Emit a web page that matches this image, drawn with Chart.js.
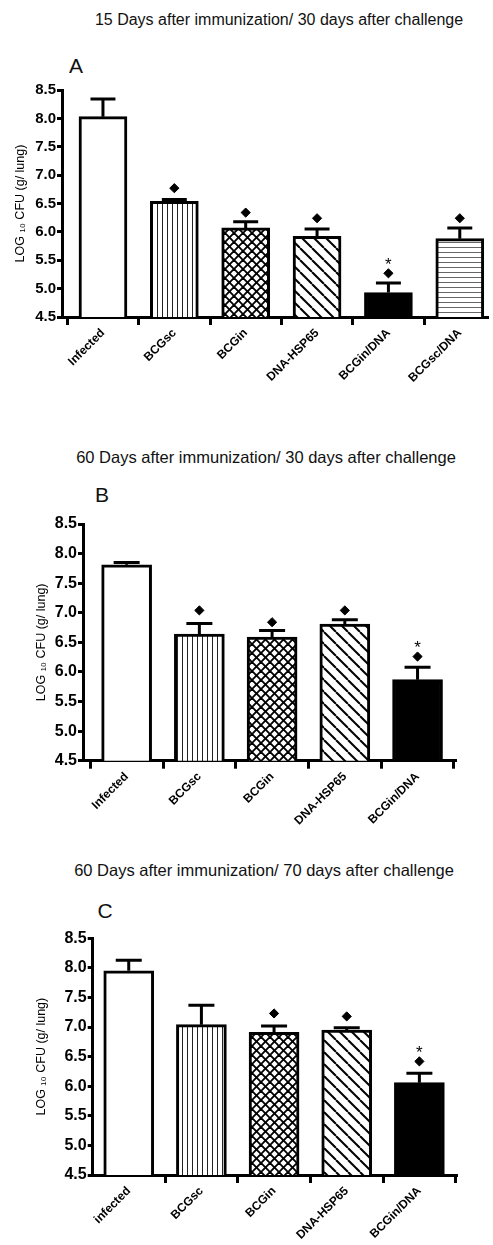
<!DOCTYPE html>
<html><head><meta charset="utf-8">
<script src="https://cdn.jsdelivr.net/npm/chart.js@4.4.1/dist/chart.umd.min.js"></script>
<style>
html,body{margin:0;padding:0;background:#fff;}
body{width:493px;height:1245px;position:relative;overflow:hidden;font-family:"Liberation Sans",Arial,sans-serif;}
canvas{position:absolute;left:0;}
.t{position:absolute;transform:translate(-50%,-50%);white-space:nowrap;color:#111;line-height:1;}
</style></head><body>
<script>
// ---------- DATA ----------
const catsA = ['Infected','BCGsc','BCGin','DNA-HSP65','BCGin/DNA','BCGsc/DNA'];
const meansA = [8.03, 6.54, 6.07, 5.92, 4.93, 5.88];
const semA = [0.31, 0.03, 0.11, 0.13, 0.17, 0.19];
const diamondA = [null, 6.77, 6.34, 6.24, 5.27, 6.24];
const starA = [null, null, null, null, 5.50, null];

const catsB = ['Infected','BCGsc','BCGin','DNA-HSP65','BCGin/DNA'];
const meansB = [7.81, 6.64, 6.59, 6.81, 5.87];
const semB = [0.04, 0.18, 0.11, 0.07, 0.21];
const diamondB = [null, 7.04, 6.84, 7.04, 6.26];
const starB = [null, null, null, null, 6.48];

const catsC = ['infected','BCGsc','BCGin','DNA-HSP65','BCGin/DNA'];
const meansC = [7.95, 7.04, 6.91, 6.95, 6.06];
const semC = [0.18, 0.33, 0.11, 0.04, 0.16];
const diamondC = [null, null, 7.23, 7.18, 6.42];
const starC = [null, null, null, null, 6.64];

const yTickVals = [4.5, 5.0, 5.5, 6.0, 6.5, 7.0, 7.5, 8.0, 8.5];
const yTitle = 'LOG \u2081\u2080 CFU (g/ lung)';
const titleA = '15 Days after immunization/ 30 days after challenge';
const titleB = '60 Days after immunization/ 30 days after challenge';
const titleC = '60 Days after immunization/ 70 days after challenge';
const fillKinds = ['white','vertical','cross','diag','solid','horizontal'];

// ---------- LAYOUT ----------
const FF = '"Liberation Sans", Arial, sans-serif';
const panels = [
  {letter:'A', title:titleA, cats:catsA, means:meansA, sem:semA, dia:diamondA, star:starA,
   top:80, h:320, left:62, plotTop:90, plotBottom:317, right:493, xmin:-0.574, xmax:5.387, bw:48, tf:15, ytx:21, tsz:16,
   titleXY:[279,20], letterXY:[76,65]},
  {letter:'B', title:titleB, cats:catsB, means:meansB, sem:semB, dia:diamondB, star:starB,
   top:500, h:340, left:83, plotTop:524, plotBottom:760.7, right:455, xmin:-0.60, xmax:4.515, bw:50, tf:16, ytx:42, tsz:16.5,
   titleXY:[266,457], letterXY:[102,494]},
  {letter:'C', title:titleC, cats:catsC, means:meansC, sem:semC, dia:diamondC, star:starC,
   top:920, h:325, left:92.7, plotTop:938.3, plotBottom:1175, right:456, xmin:-0.496, xmax:4.504, bw:50, tf:16, ytx:41.7, tsz:16.5,
   titleXY:[264,870], letterXY:[105,910]}
];

function makeFill(kind){
  if (kind === 'white') return '#ffffff';
  if (kind === 'solid') return '#000000';
  const c = document.createElement('canvas');
  const g = c.getContext('2d');
  if (kind === 'vertical') {
    c.width = 5; c.height = 5;
    g.fillStyle = '#fff'; g.fillRect(0,0,5,5);
    g.fillStyle = '#222'; g.fillRect(2,0,1,5);
  } else if (kind === 'horizontal') {
    c.width = 5; c.height = 5;
    g.fillStyle = '#fff'; g.fillRect(0,0,5,5);
    g.fillStyle = '#666'; g.fillRect(0,2,5,1);
  } else if (kind === 'diag') {
    const s = 12; c.width = s; c.height = s;
    g.fillStyle = '#fff'; g.fillRect(0,0,s,s);
    g.strokeStyle = '#000'; g.lineWidth = 2;
    for (let k = -1; k <= 1; k++) { g.beginPath(); g.moveTo(k*s, 0); g.lineTo(k*s + s, s); g.stroke(); }
  } else if (kind === 'cross') {
    const s = 9; c.width = s; c.height = s;
    g.fillStyle = '#fff'; g.fillRect(0,0,s,s);
    g.strokeStyle = '#000'; g.lineWidth = 1.9;
    for (let k = -1; k <= 1; k++) { g.beginPath(); g.moveTo(k*s, 0); g.lineTo(k*s + s, s); g.stroke(); }
    for (let k = 0; k <= 2; k++) { g.beginPath(); g.moveTo(k*s, 0); g.lineTo(k*s - s, s); g.stroke(); }
  }
  return g.createPattern(c, 'repeat');
}

panels.forEach(p => {
  const tt = document.createElement('div');
  tt.className = 't'; tt.textContent = p.title;
  tt.style.left = p.titleXY[0] + 'px'; tt.style.top = p.titleXY[1] + 'px'; tt.style.fontSize = p.tsz + 'px';
  document.body.appendChild(tt);
  const lt = document.createElement('div');
  lt.className = 't'; lt.textContent = p.letter;
  lt.style.left = p.letterXY[0] + 'px'; lt.style.top = p.letterXY[1] + 'px'; lt.style.fontSize = '21px';
  document.body.appendChild(lt);

  const cv = document.createElement('canvas');
  cv.width = 493; cv.height = p.h; cv.style.top = p.top + 'px';
  document.body.appendChild(cv);

  const errPlugin = {
    id: 'errbars',
    afterDatasetsDraw(chart) {
      const ctx = chart.ctx, xs = chart.scales.x, ys = chart.scales.y;
      ctx.save();
      ctx.strokeStyle = '#000'; ctx.lineWidth = 3; ctx.lineCap = 'butt';
      p.means.forEach((m, i) => {
        const x = xs.getPixelForValue(i);
        const y0 = ys.getPixelForValue(m);
        const y1 = ys.getPixelForValue(m + p.sem[i]);
        const hw = p.bw * 0.26;
        ctx.beginPath();
        ctx.moveTo(x, y0); ctx.lineTo(x, y1);
        ctx.moveTo(x - hw, y1); ctx.lineTo(x + hw, y1);
        ctx.stroke();
      });
      ctx.fillStyle = '#000'; ctx.font = '17px ' + FF;
      ctx.textAlign = 'center'; ctx.textBaseline = 'alphabetic';
      p.star.forEach((s, i) => {
        if (s == null) return;
        ctx.fillText('*', xs.getPixelForValue(i), ys.getPixelForValue(s) + 9.5);
      });
      ctx.restore();
    }
  };

  new Chart(cv, {
    type: 'bar',
    data: {
      datasets: [
        {type: 'bar', data: p.means.map((v, i) => ({x: i, y: v})),
         backgroundColor: p.cats.map((c, i) => makeFill(fillKinds[i])),
         borderColor: '#000', borderWidth: 3, borderSkipped: false, barThickness: p.bw, order: 2},
        {type: 'line', data: p.dia.map((v, i) => v == null ? null : ({x: i, y: v})).filter(Boolean),
         showLine: false, pointStyle: 'rectRot', pointRadius: 4.6,
         pointBackgroundColor: '#000', pointBorderColor: '#000', pointBorderWidth: 1, order: 1}
      ]
    },
    options: {
      responsive: false, animation: false, events: [],
      layout: {padding: {top: p.plotTop - p.top, left: 0, right: 493 - p.right, bottom: 0}},
      plugins: {legend: {display: false}, tooltip: {enabled: false}},
      scales: {
        x: {type: 'linear', min: p.xmin, max: p.xmax, offset: false,
            afterBuildTicks: s => { s.ticks = p.cats.map((c, i) => ({value: i})); },
            afterFit: s => { s.height = p.top + p.h - p.plotBottom; },
            ticks: {callback: v => p.cats[v] ?? '', minRotation: 45, maxRotation: 45, autoSkip: false,
                    color: '#000', font: {family: FF, size: 12, weight: 'bold'}, padding: 1},
            grid: {drawOnChartArea: false, drawTicks: true, tickLength: 8, lineWidth: 3, color: '#000'},
            border: {display: true, width: 3, color: '#000'}},
        y: {type: 'linear', min: 4.5, max: 8.5,
            afterBuildTicks: s => { s.ticks = yTickVals.map(v => ({value: v})); },
            afterFit: s => { s.width = p.left; },
            ticks: {callback: v => v.toFixed(1), color: '#000', font: {family: FF, size: p.tf, weight: 'bold'}, padding: 1},
            grid: {drawOnChartArea: false, drawTicks: true, tickLength: 5, lineWidth: 3, color: '#000'},
            border: {display: true, width: 3, color: '#000'},
            title: {display: true, text: yTitle, color: '#000', font: {family: FF, size: 12.5},
                    padding: {top: p.ytx - 7.5, bottom: 0}}}
      }
    },
    plugins: [errPlugin]
  });
});
</script>
</body></html>
